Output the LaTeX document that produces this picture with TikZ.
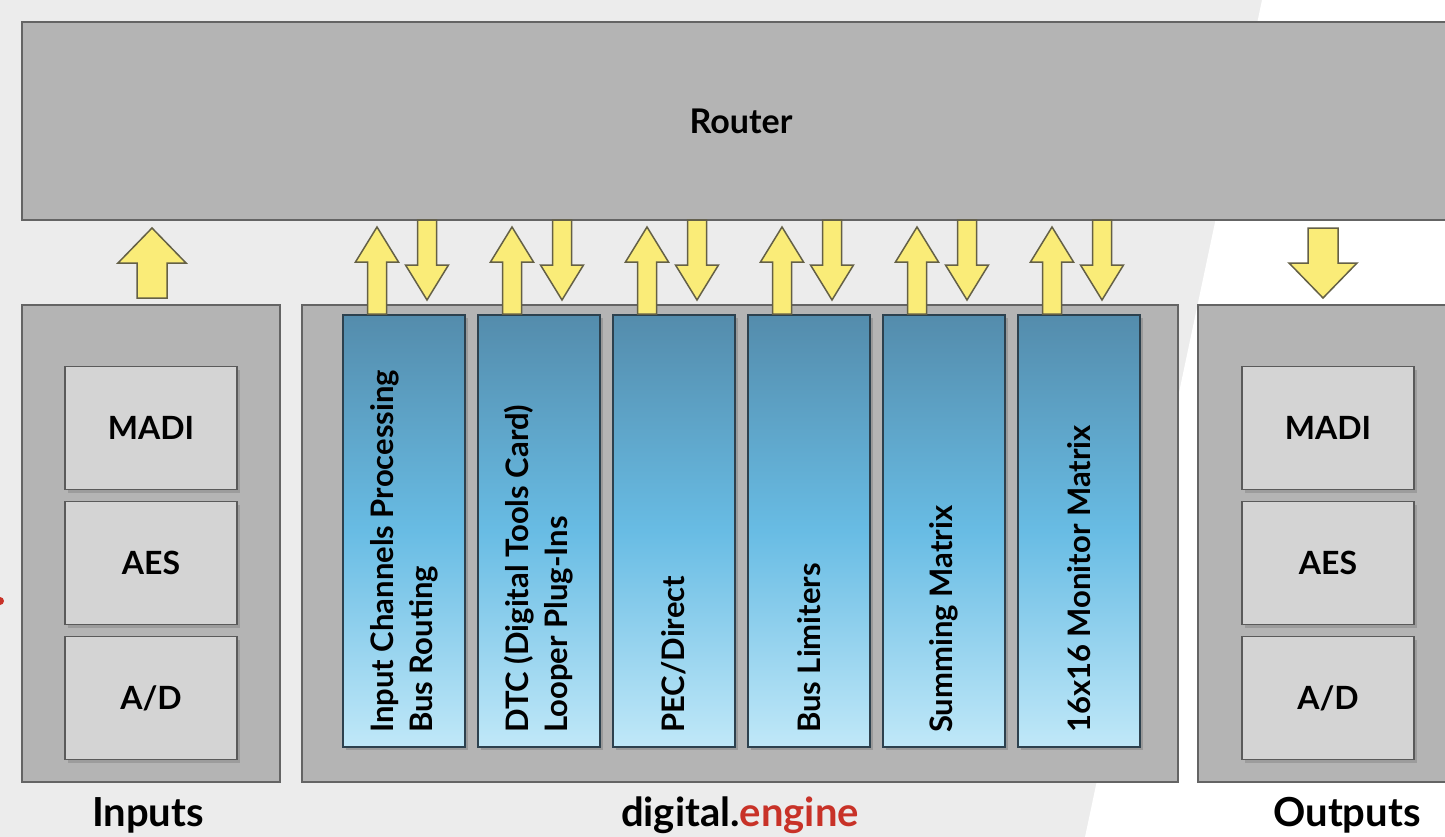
\documentclass[tikz,border=0pt]{standalone}
\usepackage{fontspec}
\setmainfont{Lato}
\usetikzlibrary{positioning,calc,shadows}

\definecolor{bggrey}{RGB}{236,236,236}
\definecolor{panelgrey}{RGB}{180,180,180}
\definecolor{panelline}{RGB}{100,100,100}
\definecolor{portgrey}{RGB}{212,212,212}
\definecolor{portline}{RGB}{90,90,90}
\definecolor{coltop}{RGB}{84,140,172}
\definecolor{colmid}{RGB}{104,188,228}
\definecolor{colbot}{RGB}{192,232,248}
\definecolor{colline}{RGB}{45,65,78}
\definecolor{arrowyellow}{RGB}{250,236,120}
\definecolor{arrowline}{RGB}{100,96,70}
\definecolor{engred}{RGB}{200,50,40}

\newcommand{\fatarrow}[4]{%
  \draw[fatarrow] let \p1=(#1), \p2=(#2), \n1={((\y2)-(\y1))/abs((\y2)-(\y1))} in
    ({\x1-#3},\y1) -- ({\x1-#3},{\y2-\n1*35pt}) -- ({\x1-#4},{\y2-\n1*35pt}) -- (\x1,\y2)
    -- ({\x1+#4},{\y2-\n1*35pt}) -- ({\x1+#3},{\y2-\n1*35pt}) -- ({\x1+#3},\y1) -- cycle;}

\begin{document}
\begin{tikzpicture}[x=1pt,y=-1pt,
    panel/.style={rectangle, draw=panelline, fill=panelgrey, line width=2pt, inner sep=0pt, outer sep=0pt},
    portbox/.style={rectangle, draw=portline, fill=portgrey, line width=1.5pt, inner sep=0pt, outer sep=0pt,
      minimum width=172pt, minimum height=123pt, font=\fontsize{32}{32}\selectfont\bfseries,
      drop shadow={shadow xshift=3pt, shadow yshift=-3pt, opacity=.45}},
    dspcol/.style={rectangle, draw=colline, line width=1.5pt, inner sep=0pt, outer sep=0pt,
      top color=coltop, bottom color=colbot, middle color=colmid,
      minimum width=122pt, minimum height=432pt,
      drop shadow={shadow xshift=3pt, shadow yshift=-3pt, opacity=.5}},
    collabel/.style={rotate=90, anchor=west, align=left, inner sep=0pt,
      font=\fontsize{31}{39}\selectfont\bfseries},
    caption/.style={font=\fontsize{40}{40}\selectfont\bfseries},
    fatarrow/.style={draw=arrowline, fill=arrowyellow, line width=1.5pt, line join=miter},
  ]
  \clip (0,0) rectangle (1445,837);
  \fill[bggrey] (0,0) rectangle (1445,837);
  \fill[white] (1262,0) -- (1445,0) -- (1445,837) -- (1085,837) -- cycle;
  \fill[engred] (0,601) circle [radius=4pt];

  \node[panel, minimum width=1438pt, minimum height=198pt,
    font=\fontsize{34}{34}\selectfont\bfseries] (router) at (741,121) {Router};

  \node[panel, minimum width=258pt, minimum height=477pt] (inbox) at (151,543.5) {};
  \node[panel, minimum width=876pt, minimum height=477pt] (engine) at (740,543.5) {};
  \node[panel, minimum width=272pt, minimum height=477pt] (outbox) at (1334,543.5) {};

  \node[portbox] (inmadi) at (151,428) {MADI};
  \node[portbox] (inaes) [below=12pt of inmadi] {AES};
  \node[portbox] (inad) [below=12pt of inaes] {A/D};
  \node[portbox] (outmadi) at (1328,428) {MADI};
  \node[portbox] (outaes) [below=12pt of outmadi] {AES};
  \node[portbox] (outad) [below=12pt of outaes] {A/D};

  \node[dspcol] (col1) at (404,531) {};
  \node[dspcol] (col2) [right=13pt of col1] {};
  \node[dspcol] (col3) [right=13pt of col2] {};
  \node[dspcol] (col4) [right=13pt of col3] {};
  \node[dspcol] (col5) [right=13pt of col4] {};
  \node[dspcol] (col6) [right=13pt of col5] {};

  \foreach \i/\txt in {1/{Input Channels Processing\\Bus Routing},
                       2/{DTC (Digital Tools Card)\\Looper Plug-Ins},
                       3/{PEC/Direct}, 4/{Bus Limiters},
                       5/{Summing Matrix}, 6/{16x16 Monitor Matrix}}
    \node[collabel] (lab\i) at ($(col\i.south)+(0,-14)$) {\txt};

  \node[caption] (incap) at (148,815) {Inputs};
  \node[caption] (engcap) at (740,815) {digital.\textcolor{engred}{engine}};
  \node[caption] (outcap) at (1347,815) {Outputs};

  \coordinate (inTail) at ($(inbox.north)+(1,-7)$);
  \coordinate (inTip) at ($(router.south -| inTail)+(0,8)$);
  \fatarrow{inTail}{inTip}{15pt}{34pt}
  \coordinate (outTip) at ($(outbox.north)+(-11,-7)$);
  \coordinate (outTail) at ($(router.south -| outTip)+(0,8)$);
  \fatarrow{outTail}{outTip}{15pt}{34pt}

  \foreach \i in {1,...,6}{
    \coordinate (upTail\i) at ($(col\i.north)+(-27,-1)$);
    \coordinate (upTip\i) at ($(router.south -| upTail\i)+(0,7)$);
    \coordinate (dnTip\i) at ($(col\i.north)+(23,-15)$);
    \coordinate (dnTail\i) at (router.south -| dnTip\i);
    \fatarrow{upTail\i}{upTip\i}{9.5pt}{21.5pt}
    \fatarrow{dnTail\i}{dnTip\i}{9.5pt}{21.5pt}
  }
\end{tikzpicture}
\end{document}
